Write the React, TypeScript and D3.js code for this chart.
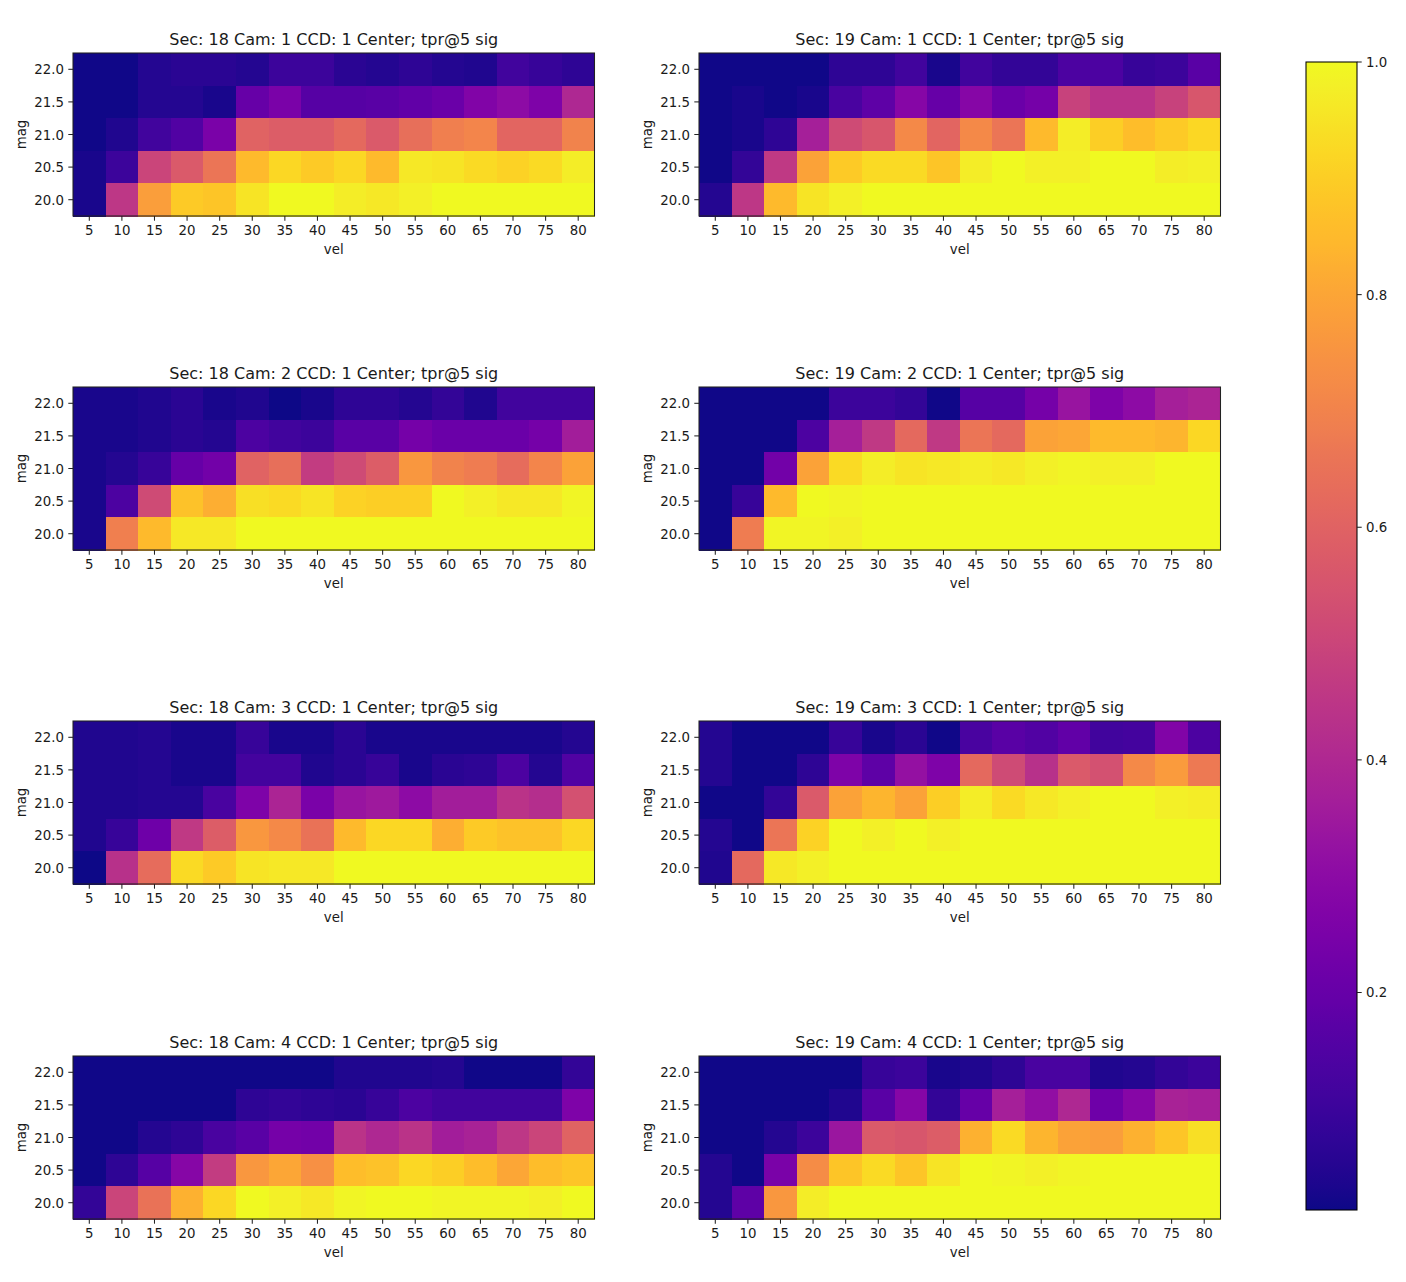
import React from "react";
import * as d3 from "d3";

const velocities = [5, 10, 15, 20, 25, 30, 35, 40, 45, 50, 55, 60, 65, 70, 75, 80];
const magnitudes = [22.0, 21.5, 21.0, 20.5, 20.0];
const colorTicks = [1.0, 0.8, 0.6, 0.4, 0.2];
const sectors = [18, 19];
const cameras = [1, 2, 3, 4];

const s18c1 = [
  [.02, .02, .05, .06, .06, .05, .10, .10, .06, .05, .07, .05, .04, .11, .09, .07],
  [.02, .02, .05, .05, .03, .20, .25, .16, .16, .17, .19, .21, .27, .30, .26, .40],
  [.02, .04, .11, .15, .25, .60, .58, .58, .62, .57, .64, .69, .71, .61, .61, .70],
  [.03, .10, .50, .57, .66, .85, .92, .89, .92, .85, .96, .95, .93, .91, .93, .97],
  [.03, .45, .78, .89, .88, .95, 1, 1, .97, .96, .98, 1, 1, 1, 1, 1],
];
const s19c1 = [
  [.02, .02, .02, .02, .07, .07, .11, .03, .11, .08, .08, .14, .14, .09, .10, .17],
  [.02, .03, .02, .03, .13, .18, .28, .20, .28, .21, .24, .49, .44, .44, .49, .56],
  [.02, .03, .07, .37, .52, .56, .72, .61, .72, .66, .85, .97, .90, .86, .89, .92],
  [.02, .08, .46, .79, .89, .93, .93, .88, .97, 1, .98, .98, 1, 1, .97, .98],
  [.05, .45, .85, .95, .98, 1, 1, 1, 1, 1, 1, 1, 1, 1, 1, 1],
];
const s18c2 = [
  [.03, .03, .04, .06, .03, .04, .01, .03, .07, .07, .05, .08, .04, .11, .11, .11],
  [.03, .03, .04, .06, .05, .14, .11, .10, .17, .17, .24, .21, .21, .21, .24, .36],
  [.03, .05, .09, .20, .23, .60, .64, .47, .52, .58, .76, .70, .68, .63, .71, .79],
  [.03, .14, .52, .87, .82, .94, .93, .95, .91, .90, .90, 1, .98, .96, .96, .99],
  [.03, .69, .85, .96, .96, 1, 1, 1, 1, 1, 1, 1, 1, 1, 1, 1],
];
const s19c2 = [
  [.02, .02, .02, .02, .10, .10, .08, .02, .16, .16, .24, .33, .26, .30, .37, .39],
  [.02, .02, .02, .14, .37, .46, .62, .46, .66, .62, .79, .80, .85, .85, .84, .92],
  [.02, .02, .23, .79, .93, .97, .95, .96, .97, .96, .98, .99, .98, .98, 1, 1],
  [.02, .09, .85, 1, .99, 1, 1, 1, 1, 1, 1, 1, 1, 1, 1, 1],
  [.02, .68, .99, .99, .98, 1, 1, 1, 1, 1, 1, 1, 1, 1, 1, 1],
];
const s18c3 = [
  [.04, .04, .05, .03, .03, .09, .03, .03, .06, .03, .03, .03, .03, .03, .03, .05],
  [.04, .04, .05, .03, .03, .12, .12, .04, .06, .09, .03, .06, .07, .14, .05, .15],
  [.04, .04, .05, .05, .13, .26, .39, .25, .33, .35, .30, .36, .36, .44, .42, .54],
  [.04, .09, .22, .46, .58, .76, .72, .65, .85, .92, .92, .82, .89, .87, .87, .92],
  [.01, .43, .63, .93, .89, .95, .96, .96, 1, 1, 1, 1, 1, 1, 1, 1],
];
const s19c3 = [
  [.05, .02, .02, .02, .09, .03, .06, .02, .13, .17, .15, .19, .11, .12, .27, .14],
  [.05, .02, .02, .07, .26, .18, .32, .26, .62, .52, .43, .57, .54, .72, .77, .67],
  [.02, .02, .08, .57, .79, .84, .79, .90, .97, .93, .96, .98, 1, 1, .98, .97],
  [.05, .02, .66, .91, 1, .98, 1, .98, 1, 1, 1, 1, 1, 1, 1, 1],
  [.04, .62, .96, .98, 1, 1, 1, 1, 1, 1, 1, 1, 1, 1, 1, 1],
];
const s18c4 = [
  [.02, .02, .02, .02, .02, .02, .02, .02, .04, .04, .04, .05, .02, .02, .02, .08],
  [.02, .02, .02, .02, .02, .07, .08, .07, .06, .09, .14, .11, .11, .11, .11, .26],
  [.02, .02, .05, .07, .13, .17, .24, .23, .44, .40, .44, .36, .38, .45, .50, .60],
  [.02, .07, .16, .28, .47, .76, .80, .74, .86, .87, .92, .90, .86, .80, .86, .88],
  [.08, .50, .65, .83, .92, 1, .98, .96, .99, 1, 1, .99, .99, .99, .98, 1],
];
const s19c4 = [
  [.02, .02, .02, .02, .02, .09, .10, .03, .04, .07, .13, .13, .04, .05, .08, .10],
  [.02, .02, .02, .02, .04, .17, .28, .08, .20, .37, .31, .40, .22, .28, .38, .37],
  [.02, .02, .05, .10, .34, .57, .56, .58, .83, .93, .84, .79, .78, .83, .88, .94],
  [.05, .02, .25, .73, .88, .93, .88, .95, 1, .99, .98, .99, 1, 1, 1, 1],
  [.05, .18, .76, .97, 1, 1, 1, 1, 1, 1, 1, 1, 1, 1, 1, 1],
];
const panelData = [
  [s18c1, s18c2, s18c3, s18c4],
  [s19c1, s19c2, s19c3, s19c4],
];

const vMin = 0.013;
const vMax = 1;
const color = d3.scaleSequential(d3.interpolatePlasma).domain([vMin, vMax]);

const FONT = "'DejaVu Sans', sans-serif";
const TEXT = "#1a1a1a";
const colLefts = [73, 699];
const rowTops = [53, 387, 721, 1056];
const plotW = 521.5;
const plotH = 163;
const TICK = 4.7;
const LW = 1.05;
const LABEL = 13.33;

function Panel({ left, top, sector, camera, data }: any) {
  const x = d3.scaleBand<number>().domain(velocities).range([left, left + plotW]);
  const y = d3.scaleBand<number>().domain(magnitudes).range([top, top + plotH]);
  const bw = x.bandwidth();
  const bh = y.bandwidth();
  return (
    <g>
      <text x={left + plotW / 2} y={top - 8} textAnchor="middle" fontSize={16} fontFamily={FONT} fill={TEXT}>
        {`Sec: ${sector} Cam: ${camera} CCD: 1 Center; tpr@5 sig`}
      </text>
      <g shapeRendering="crispEdges">
        {magnitudes.map((m, r) =>
          velocities.map((v, c) => (
            <rect key={`${m}-${v}`} x={x(v)} y={y(m)} width={bw + 0.5} height={bh + 0.5} fill={color(data[r][c])} />
          ))
        )}
      </g>
      <rect x={left} y={top} width={plotW} height={plotH} fill="none" stroke="#222" strokeWidth={LW} />
      {velocities.map((v) => {
        const px = x(v)! + bw / 2;
        return (
          <g key={v}>
            <line x1={px} x2={px} y1={top + plotH} y2={top + plotH + TICK} stroke="#222" strokeWidth={LW} />
            <text x={px} y={top + plotH + 19} textAnchor="middle" fontSize={LABEL} fontFamily={FONT} fill={TEXT}>{v}</text>
          </g>
        );
      })}
      {magnitudes.map((m) => {
        const py = y(m)! + bh / 2;
        return (
          <g key={m}>
            <line x1={left - TICK} x2={left} y1={py} y2={py} stroke="#222" strokeWidth={LW} />
            <text x={left - 9} y={py + 5} textAnchor="end" fontSize={LABEL} fontFamily={FONT} fill={TEXT}>{m.toFixed(1)}</text>
          </g>
        );
      })}
      <text x={left + plotW / 2} y={top + plotH + 38} textAnchor="middle" fontSize={LABEL} fontFamily={FONT} fill={TEXT}>vel</text>
      <text transform={`translate(${left - 47.5},${top + plotH / 2}) rotate(-90)`} textAnchor="middle" fontSize={LABEL} fontFamily={FONT} fill={TEXT}>mag</text>
    </g>
  );
}

function ColorBar() {
  const left = 1306;
  const right = 1357;
  const top = 62;
  const bottom = 1210;
  const scale = d3.scaleLinear().domain([vMin, vMax]).range([bottom, top]);
  const stops = d3.range(0, 1.0001, 0.02);
  return (
    <g>
      <defs>
        <linearGradient id="cbar" x1="0" y1="1" x2="0" y2="0">
          {stops.map((t) => (
            <stop key={t} offset={t} stopColor={d3.interpolatePlasma(t)} />
          ))}
        </linearGradient>
      </defs>
      <rect x={left} y={top} width={right - left} height={bottom - top} fill="url(#cbar)" stroke="#000" strokeWidth={LW} />
      {colorTicks.map((t) => (
        <g key={t}>
          <line x1={right} x2={right + TICK} y1={scale(t)} y2={scale(t)} stroke="#222" strokeWidth={LW} />
          <text x={right + 9} y={scale(t) + 5} fontSize={LABEL} fontFamily={FONT} fill={TEXT}>{t.toFixed(1)}</text>
        </g>
      ))}
    </g>
  );
}

export default function App() {
  return (
    <svg width={1406} height={1282} style={{ position: "absolute", left: 0, top: 0, background: "#fff" }}>
      {sectors.map((s, i) =>
        cameras.map((c, j) => (
          <Panel key={`${s}-${c}`} left={colLefts[i]} top={rowTops[j]} sector={s} camera={c} data={panelData[i][j]} />
        ))
      )}
      <ColorBar />
    </svg>
  );
}
